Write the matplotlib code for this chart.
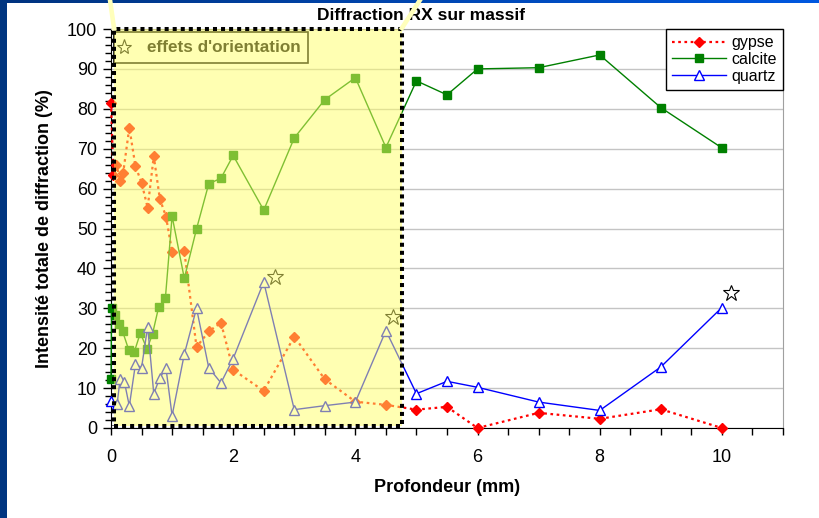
import numpy as np
import matplotlib
matplotlib.use('Agg')
import matplotlib.pyplot as plt
from matplotlib.patches import Rectangle
from matplotlib.lines import Line2D
from matplotlib.ticker import MultipleLocator
from matplotlib.colors import LinearSegmentedColormap

plt.rcParams['font.family'] = ['Liberation Sans', 'DejaVu Sans']

# Profondeur (mm) et intensite (%)
gypse_x = [0, 0.04, 0.09, 0.15, 0.2, 0.3, 0.4, 0.5, 0.6, 0.7, 0.8, 0.9, 1.0, 1.2, 1.4, 1.6, 1.8,
           2.0, 2.5, 3.0, 3.5, 4.0, 4.5, 5.0, 5.5, 6.0, 7.0, 8.0, 9.0, 10.0]
gypse_y = [81.5, 63.5, 66, 62, 64, 75.3, 65.6, 61.5, 55.2, 68.1, 57.4, 53, 44.2, 44.3, 20.3, 24.2, 26.4,
           14.6, 9.3, 22.9, 12.2, 6.6, 5.8, 4.6, 5.3, 0, 3.8, 2.3, 4.7, 0]

calcite_x = [0, 0.01, 0.07, 0.13, 0.19, 0.29, 0.38, 0.48, 0.59, 0.68, 0.78, 0.89, 1.0, 1.2, 1.4, 1.6, 1.8,
             2.0, 2.5, 3.0, 3.5, 4.0, 4.5, 5.0, 5.5, 6.0, 7.0, 8.0, 9.0, 10.0]
calcite_y = [12.3, 30, 28.4, 26, 24.2, 19.6, 19, 23.8, 19.8, 23.6, 30.3, 32.5, 53.1, 37.5, 49.9, 61.2, 62.6,
             68.3, 54.6, 72.7, 82.3, 87.8, 70.3, 87.0, 83.5, 90.0, 90.3, 93.5, 80.3, 70.2]

quartz_x = [0, 0.1, 0.15, 0.22, 0.3, 0.4, 0.5, 0.6, 0.7, 0.8, 0.9, 1.0, 1.2, 1.4, 1.6, 1.8, 2.0,
            2.5, 3.0, 3.5, 4.0, 4.5, 5.0, 5.5, 6.0, 7.0, 8.0, 9.0, 10.0]
quartz_y = [6.7, 6.0, 12.4, 11.5, 5.5, 16, 15.1, 25.4, 8.6, 12.6, 15, 3.1, 18.5, 30, 15.1, 11.3, 17.4,
            36.6, 4.6, 5.6, 6.5, 24.4, 8.6, 11.7, 10.2, 6.5, 4.4, 15.3, 30.2]

# etoiles "effets d'orientation"
star_x = [2.69, 4.61, 10.15]
star_y = [37.9, 27.9, 33.8]

# zone surlignee (mm)
zone_x0, zone_x1 = 0.055, 4.76

fig = plt.figure(figsize=(8.19, 5.18), dpi=100)
fig.patch.set_facecolor('white')

# bandeau bleu de la diapo
fig.patches.append(Rectangle((0, 0), 7 / 819, 1, transform=fig.transFigure,
                             facecolor='#003580', edgecolor='none', zorder=0))
top = fig.add_axes([0, 1 - 3 / 518, 1, 3 / 518])
top.imshow(np.linspace(0, 1, 256)[None, :], aspect='auto',
           cmap=LinearSegmentedColormap.from_list('bleu', ['#00337f', '#0058e0']))
top.axis('off')

ax = fig.add_axes([111 / 819, 90 / 518, 672 / 819, 399 / 518])

ax.plot(gypse_x, gypse_y, color='red', lw=1.6, ls=(0, (1.2, 1.6)), marker='D', ms=5,
        mec='red', mfc='red', label='gypse', clip_on=False, zorder=3)
ax.plot(calcite_x, calcite_y, color='green', lw=1, marker='s', ms=5.5,
        mec='green', mfc='green', label='calcite', clip_on=False, zorder=3)
ax.plot(quartz_x, quartz_y, color='blue', lw=1, marker='^', ms=7.5,
        mec='blue', mfc='white', mew=1, label='quartz', clip_on=False, zorder=3)

ax.plot(star_x, star_y, ls='none', marker='*', ms=12, mfc='none', mec='black', mew=0.8,
        clip_on=False, zorder=3)

# cadre "effets d'orientation"
ax.add_patch(Rectangle((0.004, 0.915), 0.289, 0.077, transform=ax.transAxes,
                       facecolor='white', edgecolor='black', lw=1.2, zorder=3))
ax.plot([0.019], [0.954], transform=ax.transAxes, marker='*', ms=11, mfc='none',
        mec='black', mew=0.8, zorder=4)
ax.text(0.0536, 0.954, "effets d'orientation", transform=ax.transAxes, fontsize=12.3,
        fontweight='bold', va='center', ha='left', zorder=4)

# surlignage jaune
ax.add_patch(Rectangle((zone_x0, 0.6), zone_x1 - zone_x0, 100 - 0.6, facecolor='#ffff66',
                       alpha=0.5, edgecolor='none', zorder=5, clip_on=False))
ax.add_patch(Rectangle((zone_x0, 0.6), zone_x1 - zone_x0, 100 - 0.6, fill=False,
                       edgecolor='black', lw=2.9, ls=(0, (1, 1)), zorder=6, clip_on=False))

ax.set_xlim(0, 11)
ax.set_ylim(0, 100)
ax.xaxis.set_major_locator(MultipleLocator(2))
ax.xaxis.set_minor_locator(MultipleLocator(0.5))
ax.yaxis.set_major_locator(MultipleLocator(10))
ax.yaxis.set_minor_locator(MultipleLocator(2))
ax.yaxis.grid(True, color='#c4c4c4', lw=1)
ax.set_axisbelow(True)

ax.tick_params(axis='y', which='major', direction='out', length=6, width=1, labelsize=13, pad=4)
ax.tick_params(axis='y', which='minor', direction='out', length=4, width=1)
ax.tick_params(axis='x', which='both', direction='out', length=5, width=1, labelsize=13, pad=10)

for s in ['top', 'right']:
    ax.spines[s].set_color('#a0a0a0')
for s in ['left', 'bottom']:
    ax.spines[s].set_color('black')

ax.set_xlabel('Profondeur (mm)', fontsize=13, fontweight='bold')
ax.set_ylabel('Intensité totale de diffraction (%)', fontsize=13, fontweight='bold')
ax.xaxis.set_label_coords(0.5, -0.129)
ax.yaxis.set_label_coords(-0.086, 0.5)

leg = ax.legend(loc='upper right', bbox_to_anchor=(1, 1), borderaxespad=0, fontsize=11.5,
                frameon=True, fancybox=False, edgecolor='black', framealpha=1,
                handlelength=3.4, handletextpad=0.3, labelspacing=0.1, borderpad=0.4)
leg.get_frame().set_linewidth(1)
leg.set_zorder(10)

fig.text(421 / 819, 1 - 16 / 518, 'Diffraction RX sur massif', fontsize=12.5,
         fontweight='bold', ha='center', va='center')

# traits de rappel jaunes
for xs, ys in [([110, 114], [0, 28]), ([420, 402], [0, 28])]:
    fig.add_artist(Line2D([x / 819 for x in xs], [1 - y / 518 for y in ys],
                          color='#ffffbb', lw=3.3, zorder=20))

fig.savefig('out.png', dpi=100)
